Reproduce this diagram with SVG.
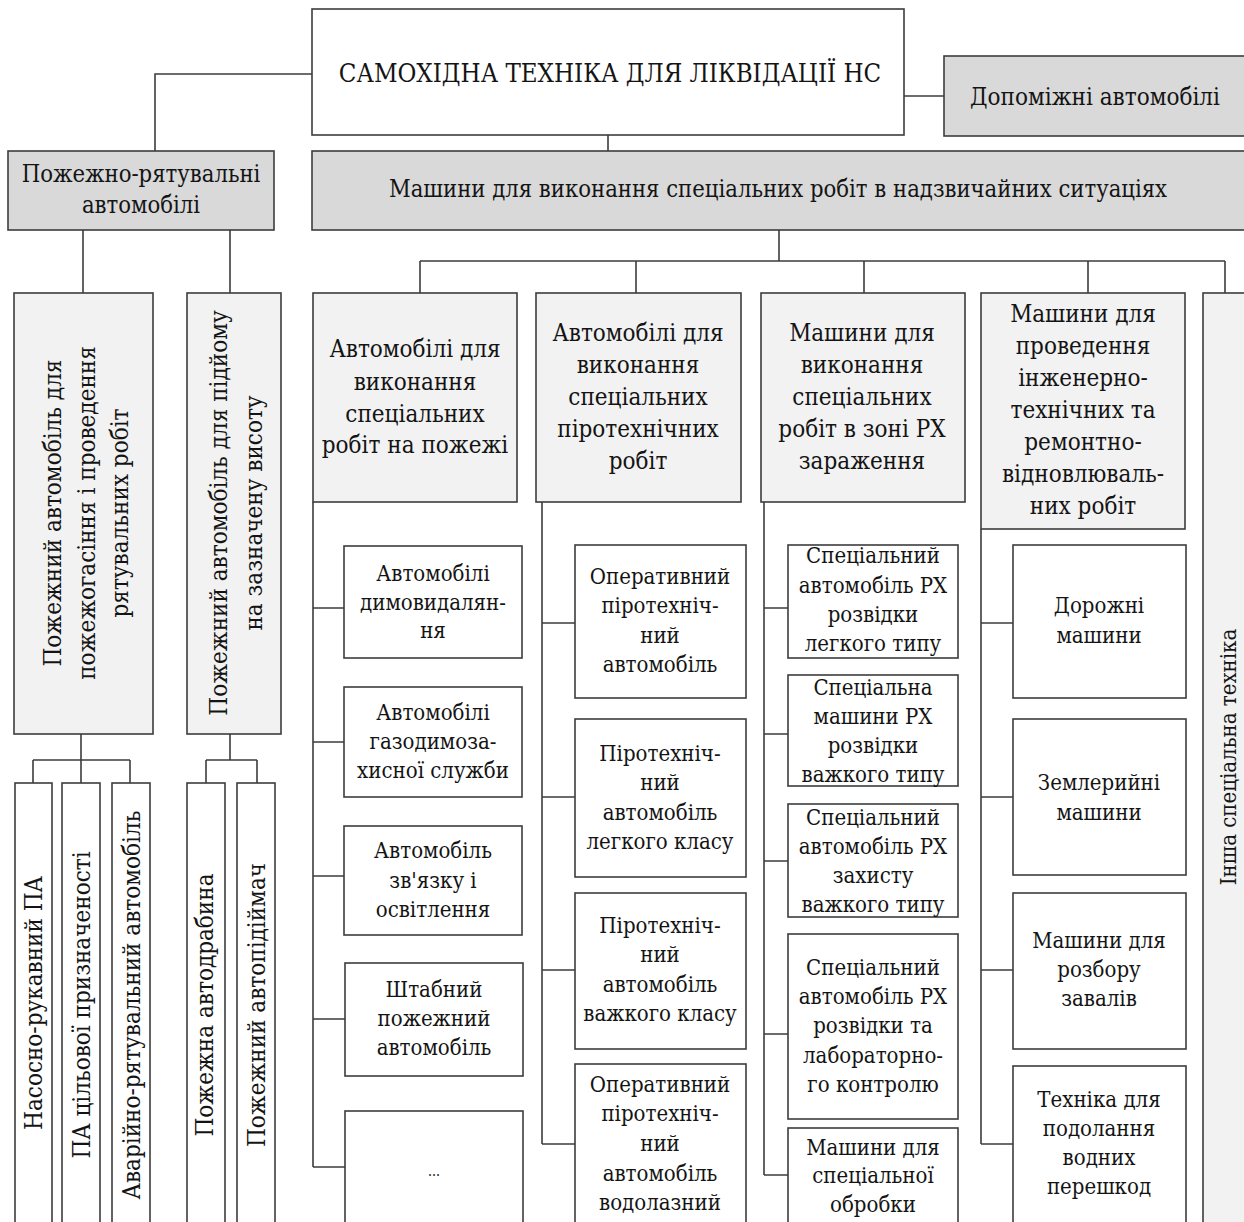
<svg xmlns="http://www.w3.org/2000/svg" width="1244" height="1222" viewBox="0 0 1244 1222">
<style>
.b{stroke:#3c3c3c;stroke-width:1.6}
.w{fill:#ffffff}
.g{fill:#d9d9d9}
.l{fill:#f2f2f2}
.c{fill:none;stroke:#3c3c3c;stroke-width:1.6}
text{font-family:'DejaVu Serif Condensed','DejaVu Serif',serif;font-stretch:condensed;fill:#141414;text-anchor:middle}
.ft{font-size:25.6px}
.f26{font-size:24px}
.f25{font-size:23.6px}
.f24{font-size:22px}
.fv{font-size:24px}
</style>
<rect width="1244" height="1222" fill="#ffffff"/>
<g id="connectors">
<path class="c" d="M312,74 H155 V151"/>
<path class="c" d="M608,135 V151"/>
<path class="c" d="M904,96 H944"/>
<path class="c" d="M83,230 V293 M230,230 V293"/>
<path class="c" d="M779,230 V261 M420,261 H1225 M420,261 V293 M636,261 V293 M864,261 V293 M1088,261 V293 M1225,261 V293"/>
<path class="c" d="M81,734 V783 M33,760 H130 M33,760 V783 M130,760 V783"/>
<path class="c" d="M230,734 V760 M206,760 H257 M206,760 V783 M257,760 V783"/>
<path class="c" d="M313,502 V1167 M313,608 H344 M313,742 H344 M313,876 H344 M313,1019 H345 M313,1167 H345"/>
<path class="c" d="M542,502 V1144 M542,623 H575 M542,797 H575 M542,970 H575 M542,1144 H575"/>
<path class="c" d="M764,502 V1175 M764,608 H788 M764,734 H788 M764,861 H788 M764,1034 H788 M764,1175 H788"/>
<path class="c" d="M981,529 V1144 M981,623 H1013 M981,797 H1013 M981,970 H1013 M981,1144 H1013"/>
</g>
<g id="root"><rect class="b w" x="312" y="9" width="592" height="126"/><text class="ft" x="610" y="82">САМОХІДНА ТЕХНІКА ДЛЯ ЛІКВІДАЦІЇ НС</text></g>
<g id="aux"><rect class="b g" x="944" y="56" width="310" height="80"/><text class="f26" x="1095" y="105">Допоміжні автомобілі</text></g>
<g id="fire-rescue"><rect class="b g" x="8" y="151" width="266" height="79"/><text class="f25" x="141" y="182">Пожежно-рятувальні</text><text class="f25" x="141" y="213">автомобілі</text></g>
<g id="special"><rect class="b g" x="312" y="151" width="940" height="79"/><text class="f25" x="778" y="197">Машини для виконання спеціальних робіт в надзвичайних ситуаціях</text></g>

<g id="fire-main"><rect class="b l" x="14" y="293" width="139" height="441"/>
<text class="fv" transform="translate(61,513) rotate(-90)">Пожежний автомобіль для</text>
<text class="fv" transform="translate(95,513) rotate(-90)">пожежогасіння і проведення</text>
<text class="fv" transform="translate(128,513) rotate(-90)">рятувальних робіт</text></g>
<g id="fire-height"><rect class="b l" x="187" y="293" width="94" height="441"/>
<text class="fv" transform="translate(227,513) rotate(-90)">Пожежний автомобіль для підйому</text>
<text class="fv" transform="translate(262,513) rotate(-90)">на зазначену висоту</text></g>

<g id="c1"><rect class="b w" x="15" y="783" width="37" height="460"/><text class="fv" transform="translate(42,1003) rotate(-90)">Насосно-рукавний ПА</text></g>
<g id="c2"><rect class="b w" x="62" y="783" width="38" height="460"/><text class="fv" transform="translate(90,1005) rotate(-90)">ПА цільової призначеності</text></g>
<g id="c3"><rect class="b w" x="112" y="783" width="38" height="460"/><text class="fv" transform="translate(140,1005) rotate(-90)">Аварійно-рятувальний автомобіль</text></g>
<g id="d1"><rect class="b w" x="187" y="783" width="38" height="460"/><text class="fv" transform="translate(213,1005) rotate(-90)">Пожежна автодрабина</text></g>
<g id="d2"><rect class="b w" x="237" y="783" width="38" height="460"/><text class="fv" transform="translate(265,1005) rotate(-90)">Пожежний автопідіймач</text></g>

<g id="col1"><rect class="b l" x="313" y="293" width="204" height="209"/>
<text class="f26" x="415" y="357">Автомобілі для</text><text class="f26" x="415" y="390">виконання</text><text class="f26" x="415" y="422">спеціальних</text><text class="f26" x="415" y="453">робіт на пожежі</text></g>
<g id="col2"><rect class="b l" x="536" y="293" width="205" height="209"/>
<text class="f26" x="638" y="341">Автомобілі для</text><text class="f26" x="638" y="373">виконання</text><text class="f26" x="638" y="405">спеціальних</text><text class="f26" x="638" y="437">піротехнічних</text><text class="f26" x="638" y="469">робіт</text></g>
<g id="col3"><rect class="b l" x="761" y="293" width="204" height="209"/>
<text class="f26" x="862" y="341">Машини для</text><text class="f26" x="862" y="373">виконання</text><text class="f26" x="862" y="405">спеціальних</text><text class="f26" x="862" y="437">робіт в зоні РХ</text><text class="f26" x="862" y="469">зараження</text></g>
<g id="col4"><rect class="b l" x="981" y="293" width="204" height="236"/>
<text class="f26" x="1083" y="322">Машини для</text><text class="f26" x="1083" y="354">проведення</text><text class="f26" x="1083" y="386">інженерно-</text><text class="f26" x="1083" y="418">технічних та</text><text class="f26" x="1083" y="450">ремонтно-</text><text class="f26" x="1083" y="482">відновлюваль-</text><text class="f26" x="1083" y="514">них робіт</text></g>
<g id="col5"><rect class="b l" x="1203" y="293" width="60" height="950"/>
<text class="f24" transform="translate(1236,757) rotate(-90)">Інша спеціальна техніка</text></g>

<g id="e1"><rect class="b w" x="344" y="546" width="178" height="112"/><text class="f24" x="433" y="581">Автомобілі</text><text class="f24" x="433" y="610">димовидалян-</text><text class="f24" x="433" y="638">ня</text></g>
<g id="e2"><rect class="b w" x="344" y="687" width="178" height="110"/><text class="f24" x="433" y="720">Автомобілі</text><text class="f24" x="433" y="749">газодимоза-</text><text class="f24" x="433" y="778">хисної служби</text></g>
<g id="e3"><rect class="b w" x="344" y="826" width="178" height="109"/><text class="f24" x="433" y="858">Автомобіль</text><text class="f24" x="433" y="888">зв'язку і</text><text class="f24" x="433" y="917">освітлення</text></g>
<g id="e4"><rect class="b w" x="345" y="963" width="178" height="113"/><text class="f24" x="434" y="997">Штабний</text><text class="f24" x="434" y="1026">пожежний</text><text class="f24" x="434" y="1055">автомобіль</text></g>
<g id="e5"><rect class="b w" x="345" y="1111" width="178" height="130"/><text style="font-size:14px" x="434" y="1176">...</text></g>

<g id="f1"><rect class="b w" x="575" y="545" width="171" height="153"/><text class="f24" x="660" y="584">Оперативний</text><text class="f24" x="660" y="613">піротехніч-</text><text class="f24" x="660" y="643">ний</text><text class="f24" x="660" y="672">автомобіль</text></g>
<g id="f2"><rect class="b w" x="575" y="719" width="171" height="158"/><text class="f24" x="660" y="761">Піротехніч-</text><text class="f24" x="660" y="790">ний</text><text class="f24" x="660" y="820">автомобіль</text><text class="f24" x="660" y="849">легкого класу</text></g>
<g id="f3"><rect class="b w" x="575" y="893" width="171" height="156"/><text class="f24" x="660" y="933">Піротехніч-</text><text class="f24" x="660" y="962">ний</text><text class="f24" x="660" y="992">автомобіль</text><text class="f24" x="660" y="1021">важкого класу</text></g>
<g id="f4"><rect class="b w" x="575" y="1064" width="171" height="180"/><text class="f24" x="660" y="1092">Оперативний</text><text class="f24" x="660" y="1121">піротехніч-</text><text class="f24" x="660" y="1151">ний</text><text class="f24" x="660" y="1181">автомобіль</text><text class="f24" x="660" y="1210">водолазний</text></g>

<g id="g1"><rect class="b w" x="788" y="545" width="170" height="113"/><text class="f24" x="873" y="563">Спеціальний</text><text class="f24" x="873" y="593">автомобіль РХ</text><text class="f24" x="873" y="622">розвідки</text><text class="f24" x="873" y="651">легкого типу</text></g>
<g id="g2"><rect class="b w" x="788" y="675" width="170" height="111"/><text class="f24" x="873" y="695">Спеціальна</text><text class="f24" x="873" y="724">машини РХ</text><text class="f24" x="873" y="753">розвідки</text><text class="f24" x="873" y="782">важкого типу</text></g>
<g id="g3"><rect class="b w" x="788" y="804" width="170" height="113"/><text class="f24" x="873" y="825">Спеціальний</text><text class="f24" x="873" y="854">автомобіль РХ</text><text class="f24" x="873" y="883">захисту</text><text class="f24" x="873" y="912">важкого типу</text></g>
<g id="g4"><rect class="b w" x="788" y="934" width="170" height="185"/><text class="f24" x="873" y="975">Спеціальний</text><text class="f24" x="873" y="1004">автомобіль РХ</text><text class="f24" x="873" y="1033">розвідки та</text><text class="f24" x="873" y="1063">лабораторно-</text><text class="f24" x="873" y="1092">го контролю</text></g>
<g id="g5"><rect class="b w" x="788" y="1128" width="170" height="115"/><text class="f24" x="873" y="1155">Машини для</text><text class="f24" x="873" y="1183">спеціальної</text><text class="f24" x="873" y="1212">обробки</text></g>

<g id="h1"><rect class="b w" x="1013" y="545" width="173" height="153"/><text class="f24" x="1099" y="613">Дорожні</text><text class="f24" x="1099" y="643">машини</text></g>
<g id="h2"><rect class="b w" x="1013" y="719" width="173" height="156"/><text class="f24" x="1099" y="790">Землерийні</text><text class="f24" x="1099" y="820">машини</text></g>
<g id="h3"><rect class="b w" x="1013" y="893" width="173" height="156"/><text class="f24" x="1099" y="948">Машини для</text><text class="f24" x="1099" y="977">розбору</text><text class="f24" x="1099" y="1006">завалів</text></g>
<g id="h4"><rect class="b w" x="1013" y="1066" width="173" height="177"/><text class="f24" x="1099" y="1107">Техніка для</text><text class="f24" x="1099" y="1136">подолання</text><text class="f24" x="1099" y="1165">водних</text><text class="f24" x="1099" y="1194">перешкод</text></g>
</svg>
